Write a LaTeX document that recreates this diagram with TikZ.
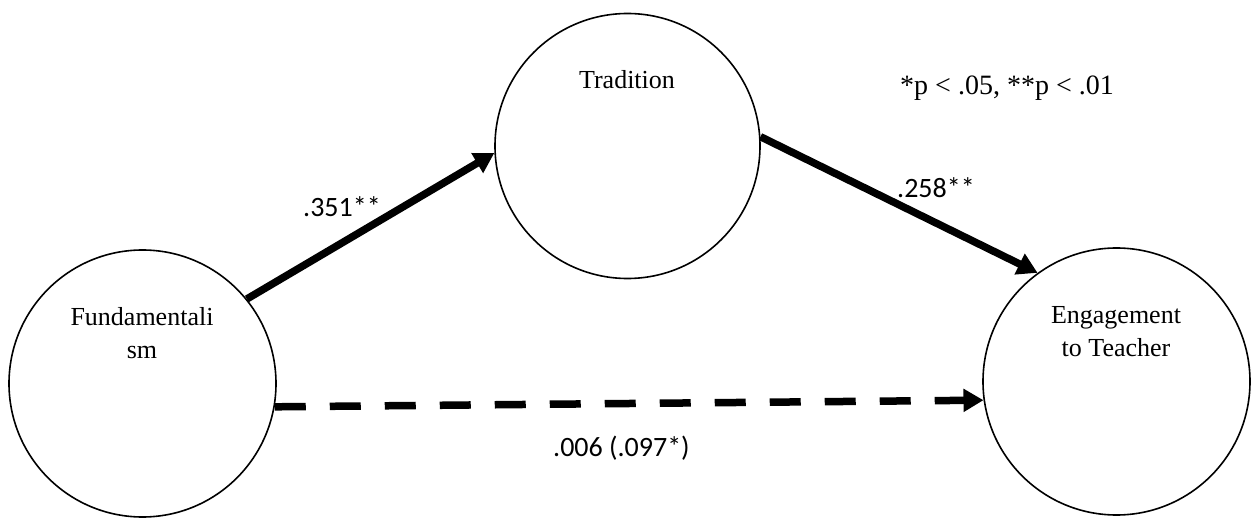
\documentclass[tikz,border=0pt]{standalone}
\usepackage{fontspec}
\setmainfont{Liberation Serif}
\newfontfamily\calib{Carlito}
\usetikzlibrary{arrows.meta}
\begin{document}
\begin{tikzpicture}[x=1pt,y=-1pt,
  var/.style={circle,draw,line width=1.6pt,minimum size=267pt,inner sep=0pt},
  vlab/.style={font=\fontsize{26}{33}\selectfont,align=center,inner sep=0pt},
  pathline/.style={line width=7.5pt,-{Triangle[length=20pt,width=22pt]}},
  coef/.style={font=\calib\fontsize{28}{32}\selectfont,inner sep=0pt,anchor=base west},
  note/.style={font=\fontsize{28}{32}\selectfont,inner sep=0pt,anchor=base west}]
\useasboundingbox[fill=white] (0,0) rectangle (1251,518);
\node[var] (F) at (142.5,383.5) {};
\node[var,minimum size=265pt] (T) at (627.5,146) {};
\node[var] (E) at (1116.5,381.5) {};
\node[vlab,anchor=base] (Ft) at (142,359) {Fundamentali\\sm};
\node[vlab,anchor=base] (Tt) at (627,89) {Tradition};
\node[vlab,anchor=base] (Et) at (1116,357) {Engagement\\to Teacher};
\draw[pathline] (F.39.5) -- (T.183);
\draw[pathline] (T.4.7) -- (E.126.2);
\draw[pathline,dash pattern=on 31pt off 24pt] (F.-10) -- (E.188.3);
\node[coef] (c1) at (303,217) {.351**};
\node[coef] (c2) at (897,198) {.258**};
\node[coef] (c3) at (553,457) {.006 (.097*)};
\node[note] (n) at (900,95) {*p < .05, **p < .01};
\end{tikzpicture}
\end{document}
